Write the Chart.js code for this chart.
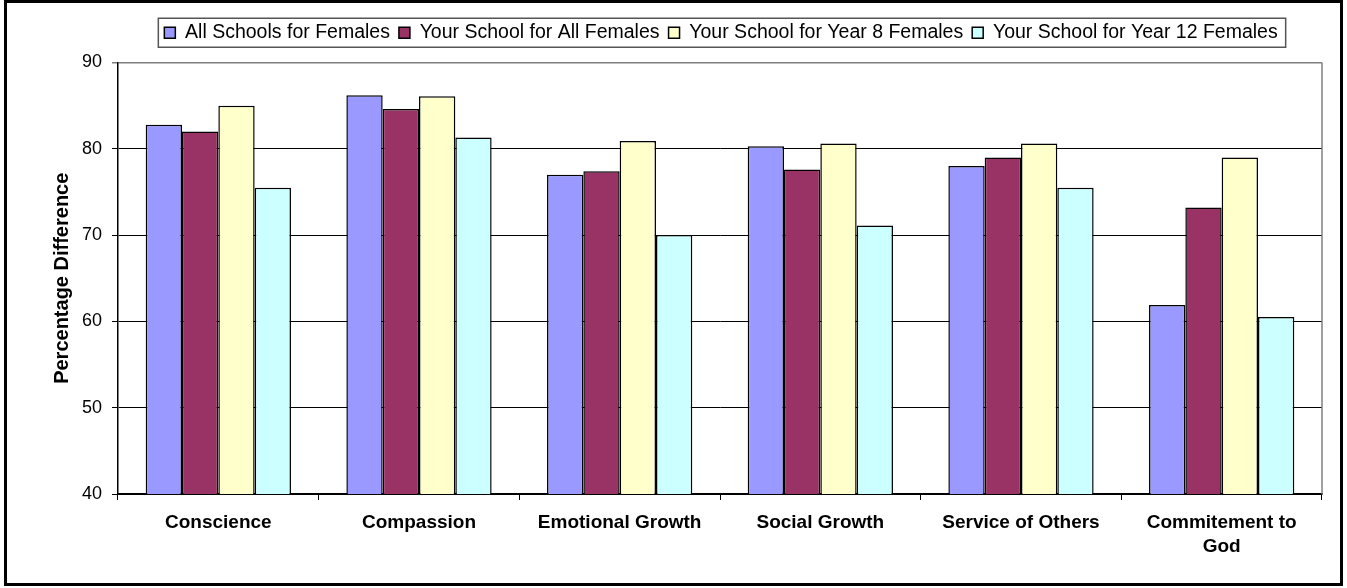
<!DOCTYPE html>
<html>
<head>
<meta charset="utf-8">
<script src="https://cdn.jsdelivr.net/npm/chart.js@4.4.1/dist/chart.umd.min.js"></script>
<style>
  html, body { margin: 0; padding: 0; background: #fff; }
  #wrap { width: 1347px; height: 588px; position: relative; }
</style>
</head>
<body>
<div id="wrap"><canvas id="myChart"></canvas></div>
<script>
var categories = ["Conscience", "Compassion", "Emotional Growth", "Social Growth", "Service of Others", ["Commitement to", "God"]];
var seriesNames = ["All Schools for Females", "Your School for All Females", "Your School for Year 8 Females", "Your School for Year 12 Females"];
var allSchools = [82.8, 86.2, 77.0, 80.3, 78.0, 61.9];
var yourSchoolAll = [82.0, 84.6, 77.4, 77.6, 79.0, 73.2];
var yourSchoolY8 = [85.0, 86.1, 80.9, 80.6, 80.6, 79.0];
var yourSchoolY12 = [75.5, 81.3, 70.0, 71.1, 75.5, 60.5];
var yTicks = [40, 50, 60, 70, 80, 90];
var barColors = ["#9999ff", "#993366", "#ffffcc", "#ccffff"];

var seriesValues = [allSchools, yourSchoolAll, yourSchoolY8, yourSchoolY12];
var FONT = "'Liberation Sans', Arial, sans-serif";

// frame, legend box, plot right edge
var framePlugin = {
  id: "frame",
  afterInit: function (chart) {
    var lg = chart.legend;
    var fit = lg.fit;
    lg.fit = function () {
      fit.call(this);
      this.height += 10; // extra gap under the legend
    };
  },
  afterLayout: function (chart) {
    chart.legend.left += 60;
    chart.legend.right += 60;
  },
  afterDraw: function (chart) {
    var ctx = chart.ctx;
    var ca = chart.chartArea;
    ctx.save();
    // plot area right border
    ctx.strokeStyle = "#808080";
    ctx.lineWidth = 1.5;
    ctx.beginPath();
    ctx.moveTo(ca.right, ca.top);
    ctx.lineTo(ca.right, ca.bottom);
    ctx.stroke();
    // legend frame
    var hb = chart.legend.legendHitBoxes;
    if (hb && hb.length) {
      var first = hb[0], last = hb[hb.length - 1];
      var cy = first.top + first.height / 2;
      ctx.strokeStyle = "#555";
      ctx.lineWidth = 1.5;
      ctx.strokeRect(first.left - 6, cy - 14.5, last.left + last.width + 8 - (first.left - 6), 29);
    }
    // outer border
    ctx.strokeStyle = "#000";
    ctx.lineWidth = 3;
    ctx.strokeRect(5.5, 1.5, 1336, 583);
    ctx.restore();
  }
};

new Chart("myChart", {
  type: "bar",
  data: {
    labels: categories,
    datasets: seriesNames.map(function (name, i) {
      return {
        label: name,
        data: seriesValues[i],
        backgroundColor: barColors[i],
        borderColor: "#000",
        borderWidth: 1.5,
        borderSkipped: false,
        categoryPercentage: 0.724,
        barPercentage: 1.0
      };
    })
  },
  options: {
    responsive: true,
    maintainAspectRatio: false,
    animation: false,
    layout: { padding: { top: 14, left: 0, right: 25, bottom: 0 } },
    plugins: {
      legend: {
        position: "top",
        labels: {
          boxWidth: 11,
          boxHeight: 11,
          padding: 9,
          color: "#000",
          font: { family: FONT, size: 19.5 }
        }
      },
      tooltip: { enabled: false }
    },
    scales: {
      x: {
        afterFit: function (scale) { scale.height = 94; },
        grid: {
          offset: true,
          drawOnChartArea: false,
          color: "#000",
          tickLength: 6
        },
        border: { color: "#000", width: 1.5 },
        ticks: {
          color: "#000",
          padding: 10,
          maxRotation: 0,
          autoSkip: false,
          font: { family: FONT, size: 19, weight: "bold", lineHeight: 1.3 }
        }
      },
      y: {
        min: 40,
        max: 90,
        afterFit: function (scale) { scale.width = 118; },
        afterBuildTicks: function (scale) {
          scale.ticks = yTicks.map(function (v) { return { value: v }; });
        },
        grid: {
          color: function (c) { return c.tick && c.tick.value === 90 ? "#808080" : "#000"; },
          lineWidth: function (c) { return c.tick && c.tick.value === 90 ? 1.5 : 1; },
          tickLength: 6
        },
        border: { color: "#000", width: 1.5 },
        ticks: {
          color: "#000",
          padding: 10,
          font: { family: FONT, size: 18 }
        },
        title: {
          display: true,
          text: "Percentage Difference",
          color: "#000",
          padding: { top: 50, bottom: 0 },
          font: { family: FONT, size: 20, weight: "bold" }
        }
      }
    }
  },
  plugins: [framePlugin]
});
</script>
</body>
</html>
